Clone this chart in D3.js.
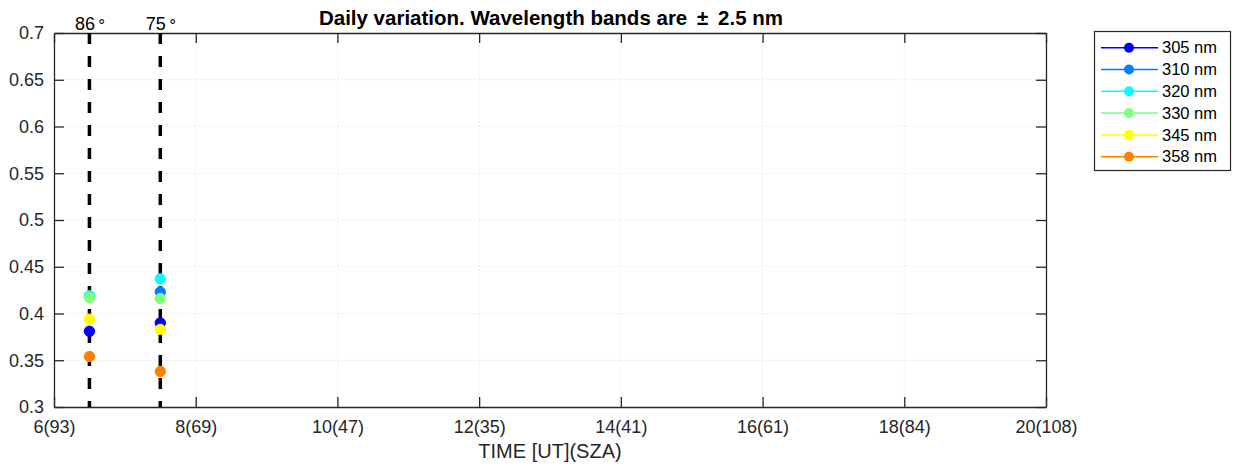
<!DOCTYPE html>
<html><head><meta charset="utf-8">
<script src="https://cdn.jsdelivr.net/npm/d3@7"></script>
<style>body{margin:0;background:#fff}svg{display:block;font-family:"Liberation Sans",Arial,Helvetica,sans-serif}</style>
</head><body><svg id="c" width="1235" height="471"></svg>
<script>
const seriesNames = ["305 nm","310 nm","320 nm","330 nm","345 nm","358 nm"];
const seriesColors = ["#0000ff","#0080ff","#00ffff","#80ff80","#ffff00","#ff8000"];
const times = [6.5, 7.5];
const values305 = [0.381, 0.390];
const values310 = [0.418, 0.423];
const values320 = [0.419, 0.437];
const values330 = [0.417, 0.416];
const values345 = [0.394, 0.383];
const values358 = [0.354, 0.338];
const seriesValues = [values305, values310, values320, values330, values345, values358];
const xTicks = [6,8,10,12,14,16,18,20];
const xTickLabels = ["6(93)","8(69)","10(47)","12(35)","14(41)","16(61)","18(84)","20(108)"];
const yTicks = [0.3,0.35,0.4,0.45,0.5,0.55,0.6,0.65,0.7];
const szaLines = [6.5, 7.5];
const szaLabels = ["86", "75"];

const svg = d3.select("#c");
const L=54, R=1046, T=33, B=407;
const x = d3.scaleLinear().domain([6,20]).range([L,R]);
const y = d3.scaleLinear().domain([0.3,0.7]).range([B,T]);
const ax = "#262626";

// grid
const g = svg.append("g");
g.selectAll("line.gx").data(xTicks.slice(1,-1)).join("line")
  .attr("x1",d=>x(d)).attr("x2",d=>x(d)).attr("y1",T).attr("y2",B)
  .attr("stroke","#d9d9d9").attr("stroke-width",1).attr("stroke-dasharray","1,3");
g.selectAll("line.gy").data(yTicks.slice(1,-1)).join("line")
  .attr("y1",d=>y(d)).attr("y2",d=>y(d)).attr("x1",L).attr("x2",R)
  .attr("stroke","#d9d9d9").attr("stroke-width",1).attr("stroke-dasharray","1,3");

// axes
const xb = svg.append("g").attr("transform",`translate(0,${B})`)
  .call(d3.axisBottom(x).tickValues(xTicks).tickFormat((d,i)=>xTickLabels[i]).tickSizeInner(-10).tickSizeOuter(0).tickPadding(13));
const xt = svg.append("g").attr("transform",`translate(0,${T})`)
  .call(d3.axisTop(x).tickValues(xTicks).tickFormat("").tickSizeInner(-10).tickSizeOuter(0));
const yl = svg.append("g").attr("transform",`translate(${L},0)`)
  .call(d3.axisLeft(y).tickValues(yTicks).tickFormat(d=>d3.format("")(+d.toFixed(2))).tickSizeInner(-10).tickSizeOuter(0).tickPadding(10));
const yr = svg.append("g").attr("transform",`translate(${R},0)`)
  .call(d3.axisRight(y).tickValues(yTicks).tickFormat("").tickSizeInner(-10).tickSizeOuter(0));
[xb,xt,yl,yr].forEach(a=>{
  a.select(".domain").attr("stroke",ax).attr("stroke-width",1.3);
  a.selectAll(".tick line").attr("stroke",ax).attr("stroke-width",1.3);
  a.selectAll("text").attr("fill","#262626").attr("font-size",18).attr("font-family","Liberation Sans, Arial, sans-serif");
});
xb.selectAll("text").attr("dy","0.71em");

// dashed SZA lines
svg.selectAll("line.sza").data(szaLines).join("line")
  .attr("x1",d=>x(d)).attr("x2",d=>x(d)).attr("y1",T).attr("y2",B)
  .attr("stroke","#000").attr("stroke-width",3.5).attr("stroke-dasharray","11,12");
szaLines.forEach((t,i)=>{
  const tx = svg.append("text").attr("x",x(t)+1).attr("y",30).attr("text-anchor","middle")
    .attr("font-size",18).attr("fill","#000");
  tx.append("tspan").text(szaLabels[i]);
  tx.append("tspan").text("\u2218").attr("dx",2).attr("dy",-4).attr("font-size",15);
});

// points
seriesValues.forEach((vals,si)=>{
  svg.append("g").selectAll("circle").data(vals).join("circle")
    .attr("cx",(d,i)=>x(times[i])).attr("cy",d=>y(d)).attr("r",5.2)
    .attr("fill",seriesColors[si]).attr("stroke",seriesColors[si]);
});

// title
svg.append("text").attr("x",551).attr("y",25).attr("text-anchor","middle")
  .attr("font-size",20.5).attr("font-weight","bold").attr("fill","#000")
  .text("Daily variation. Wavelength bands are \u2009\u00b1\u2009 2.5 nm");
// x label
svg.append("text").attr("x",550).attr("y",458).attr("text-anchor","middle")
  .attr("font-size",20).attr("fill","#262626").text("TIME [UT](SZA)");

// legend
const lg = svg.append("g");
lg.append("rect").attr("x",1094.5).attr("y",31.5).attr("width",136).attr("height",139)
  .attr("fill","#fff").attr("stroke","#262626").attr("stroke-width",1.2);
seriesNames.forEach((n,i)=>{
  const yy = 47.7 + i*21.8;
  lg.append("line").attr("x1",1101).attr("x2",1158).attr("y1",yy).attr("y2",yy)
    .attr("stroke",seriesColors[i]).attr("stroke-width",1.5);
  lg.append("circle").attr("cx",1129).attr("cy",yy).attr("r",5).attr("fill",seriesColors[i]);
  lg.append("text").attr("x",1162).attr("y",yy).attr("dy","0.35em").attr("font-size",16.5)
    .attr("fill","#000").text(n);
});
</script></body></html>
